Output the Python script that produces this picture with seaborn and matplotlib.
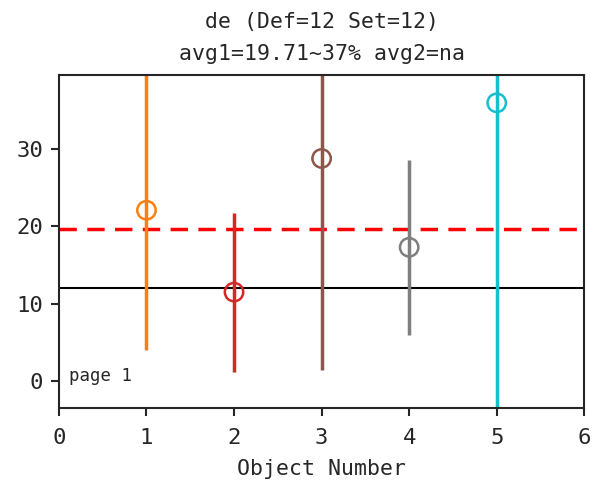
import matplotlib
matplotlib.use("Agg")
import matplotlib.pyplot as plt
import seaborn as sns
import pandas as pd

objects = [1, 2, 3, 4, 5]
values = [22.1, 11.5, 28.8, 17.3, 36.0]
errors = [18.1, 10.3, 27.4, 11.3, 40.0]
colors = ["#ff7f0e", "#d62728", "#8c564b", "#7f7f7f", "#17becf"]
avg1 = 19.71
set_value = 12
title = "de (Def=12 Set=12)\navg1=19.71~37% avg2=na"
xlabel = "Object Number"
page_text = "page 1"

sns.set_style("ticks")
plt.rcParams["font.family"] = ["DejaVu Sans Mono", "DejaVu Sans"]

fig = plt.figure(figsize=(5.95, 4.84), dpi=100)
ax = fig.add_axes([0.099, 0.157, 0.883, 0.688])

df = pd.DataFrame({"obj": objects, "val": values, "err": errors, "c": colors})
for _, r in df.iterrows():
    ax.errorbar(r["obj"], r["val"], yerr=r["err"], color=r["c"], lw=2.5, capsize=0, fmt="none", zorder=2)

sns.scatterplot(data=df, x="obj", y="val", hue="c", palette={c: c for c in colors},
                marker="o", s=175, linewidth=1.8, legend=False, ax=ax, zorder=3)
coll = ax.collections[-1]
coll.set_facecolors("none")
coll.set_edgecolors(colors)

ax.axhline(avg1, color="red", ls="--", lw=2.5, dashes=(5, 3), zorder=1)
ax.axhline(set_value, color="black", lw=1.5, zorder=1)

ax.set_xlim(0, 6)
ax.set_ylim(-3.5, 39.6)
ax.set_yticks([0, 10, 20, 30])
ax.set_xticks([0, 1, 2, 3, 4, 5, 6])
ax.tick_params(labelsize=16, width=1.5, length=5.5)
ax.tick_params(axis="y", pad=6)
ax.tick_params(axis="x", pad=9)
for s in ax.spines.values():
    s.set_linewidth(1.5)
ax.set_xlabel(xlabel, fontsize=15.5, labelpad=8)
ax.set_ylabel("")
ax.set_title(title, fontsize=15.5, linespacing=1.75, pad=11)
ax.text(0.02, 0.08, page_text, transform=ax.transAxes, fontsize=12.5)

fig.savefig("out.png", dpi=100)
